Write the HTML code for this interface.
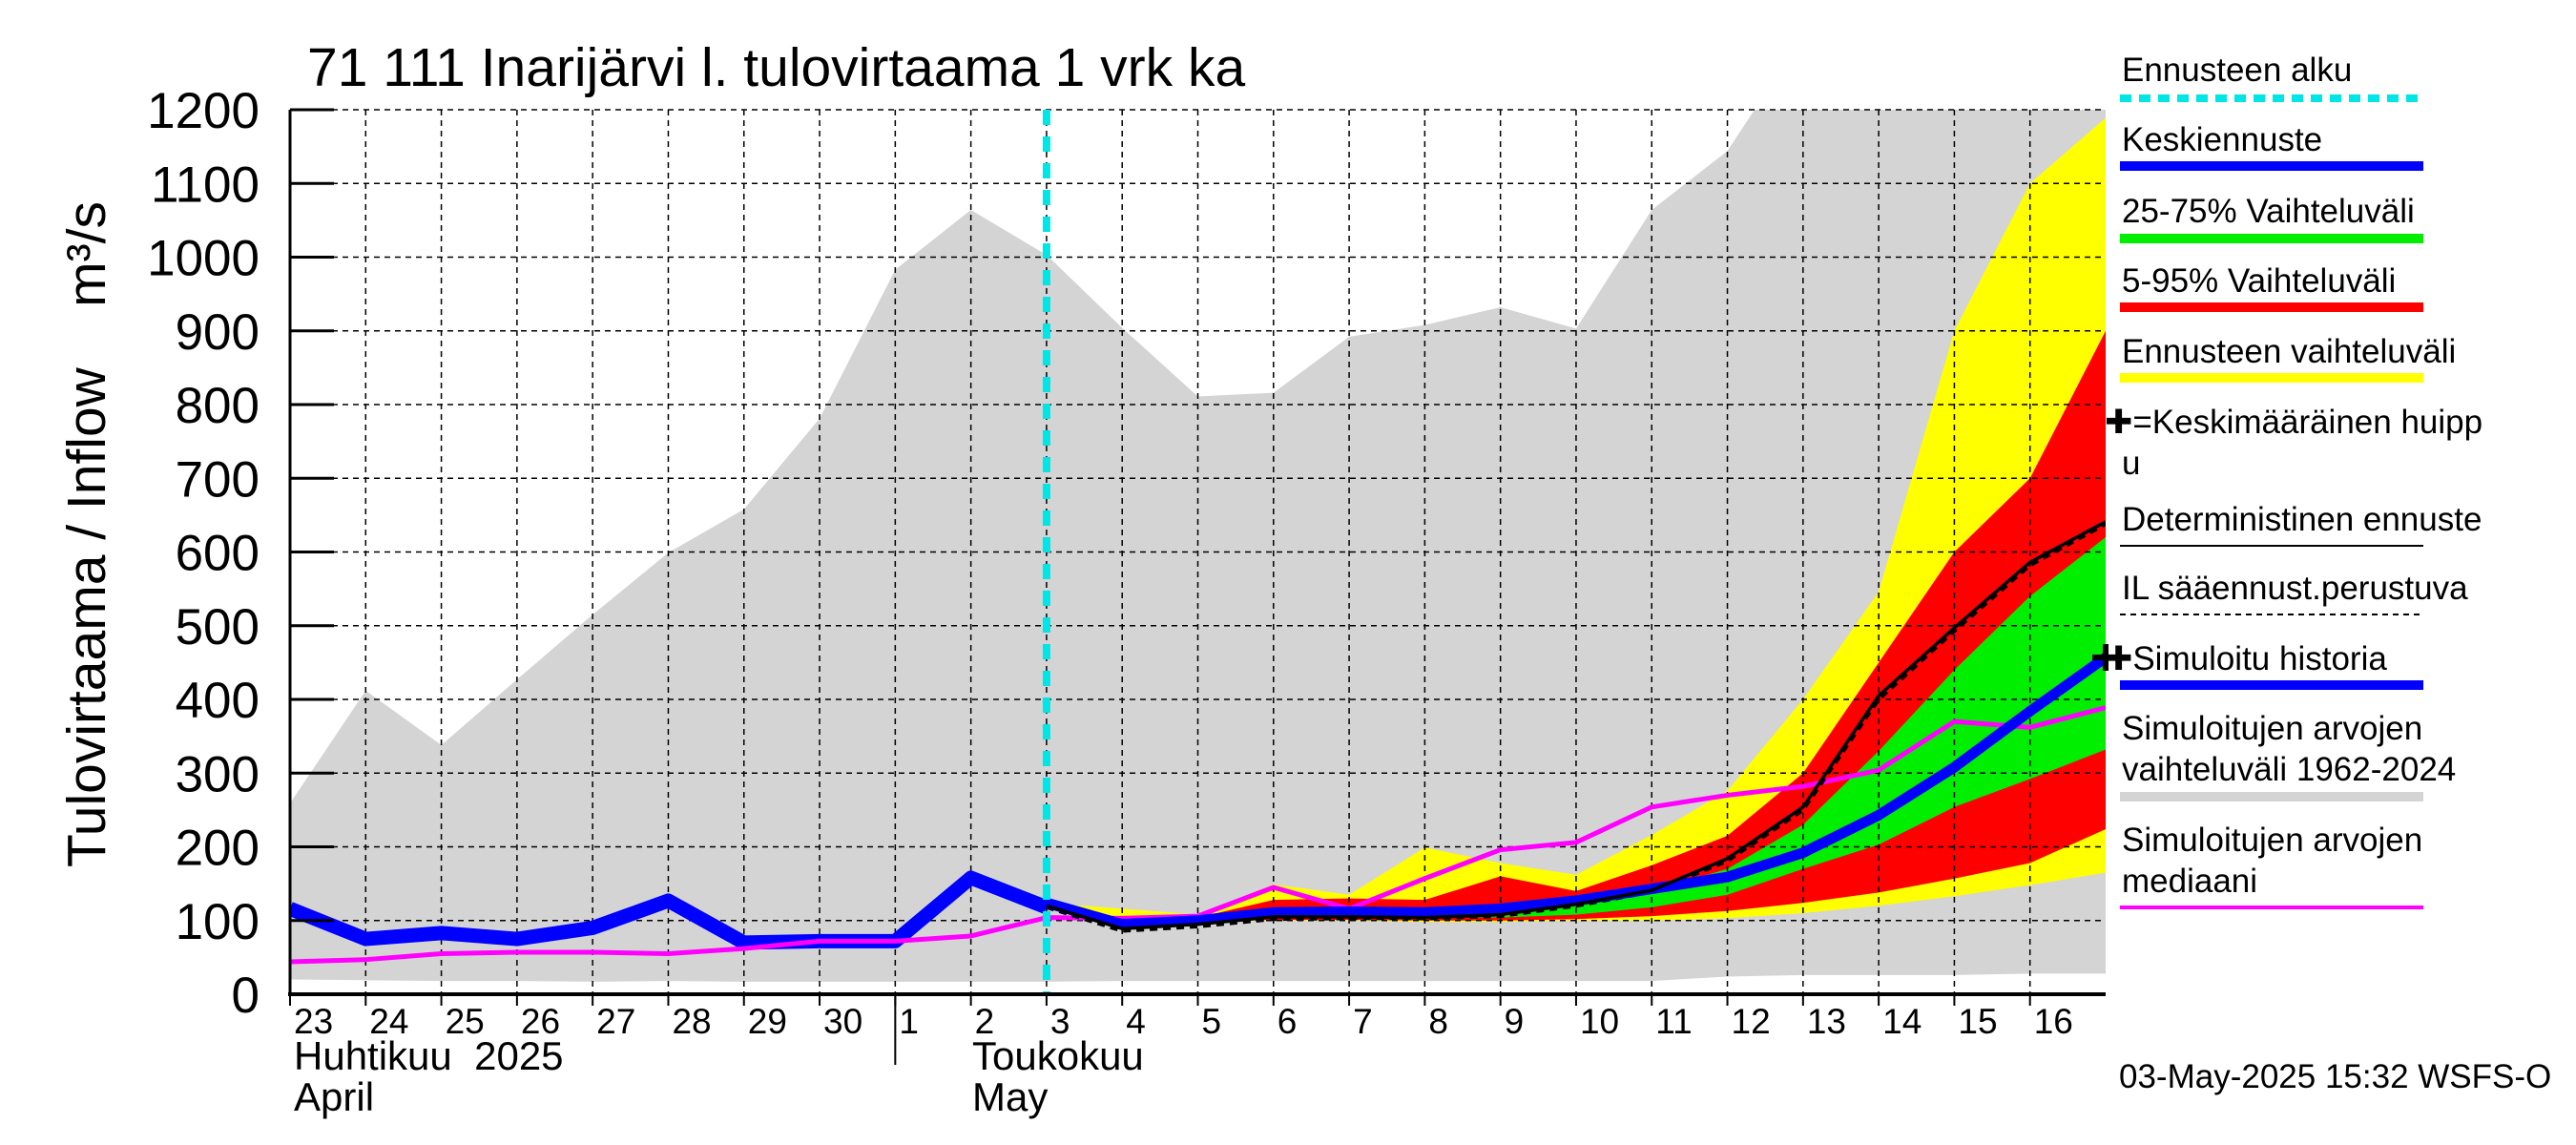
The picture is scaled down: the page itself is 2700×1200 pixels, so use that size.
<!DOCTYPE html>
<html><head><meta charset="utf-8"><style>
body{margin:0;background:#fff}
svg{display:block;font-family:"Liberation Sans",sans-serif}
</style></head><body>
<svg id="chart" width="2700" height="1200" viewBox="0 0 2700 1200" xmlns="http://www.w3.org/2000/svg">
<defs><clipPath id="pc"><rect x="304" y="115" width="1903" height="927"/></clipPath></defs>
<g id="bands" clip-path="url(#pc)"></g>
<g id="grid"></g>
<g id="lines" clip-path="url(#pc)"></g>
<g id="axes"></g>
<g id="legend"></g>
</svg>
<script>
const yTicks=[0,100,200,300,400,500,600,700,800,900,1000,1100,1200];
const dayLabels=["23","24","25","26","27","28","29","30","1","2","3","4","5","6","7","8","9","10","11","12","13","14","15","16"];
const simMax=[259,412,338,427,515,599,658,781,983,1064,1003,904,811,816,892,908,932,903,1064,1144,1300,1350,1350,1350,1350];
const simMin=[20,19,18,18,17,18,17,17,17,17,17,18,18,18,18,18,18,18,18,24,26,26,26,28,28];
const history=[116,75,83,75,90,127,70,72,72,158,118];
const median=[44,47,55,57,57,55,62,72,72,79,104,103,106,145,116,157,196,206,254,270,282,304,370,362,389];
const fcStart=10;
const meanFc=[124,95,100,111,112,111,116,127,143,159,192,243,308,384,457];
const determ=[120,89,95,105,105,104,108,122,141,184,254,405,497,586,641];
const ilFc=[118,86,92,102,103,103,106,120,139,181,250,400,493,582,638];
const yelLo=[124,95,98,100,100,98,98,100,100,103,110,120,133,148,165];
const yelHi=[124,116,108,149,135,199,178,162,216,276,400,546,900,1100,1189];
const redLo=[124,96,99,101,101,100,100,102,106,113,124,138,157,178,224];
const redHi=[124,100,104,128,130,128,160,140,175,215,300,450,600,700,900];
const grnLo=[124,97,100,105,106,104,104,108,118,135,170,203,254,292,332];
const grnHi=[124,98,102,112,114,112,114,122,140,170,230,330,440,540,620];
const NS="http://www.w3.org/2000/svg";
const X=i=>304+i*1903/24, Y=v=>1042-v*927/1200;
function mk(tag,parent,attrs){const e=document.createElementNS(NS,tag);for(const k in attrs)e.setAttribute(k,attrs[k]);document.getElementById(parent).appendChild(e);return e;}
function band(lo,hi,off,fill,name){let p=hi.map((v,i)=>X(i+off)+","+Y(v));for(let i=lo.length-1;i>=0;i--)p.push(X(i+off)+","+Y(lo[i]));
const e=mk("polygon","bands",{points:p.join(" "),fill:fill});

}
function line(vals,off,stroke,w,dash,name,g){const p=vals.map((v,i)=>X(i+off)+","+Y(v)).join(" ");
const e=mk("polyline",g||"lines",{points:p,fill:"none",stroke:stroke,"stroke-width":w,"stroke-linejoin":"round"});if(dash)e.setAttribute("stroke-dasharray",dash);

}
band(simMin,simMax,0,"#d4d4d4","simulated-range-band");
band(yelLo,yelHi,fcStart,"#ffff00","forecast-range-band");
band(redLo,redHi,fcStart,"#ff0000","band-5-95");
band(grnLo,grnHi,fcStart,"#00ee00","band-25-75");
for(const t of yTicks){if(t>0&&t<1200){const e=mk("line","grid",{x1:304,x2:2207,y1:Y(t),y2:Y(t),stroke:"#000","stroke-width":1.5,"stroke-dasharray":"6,5"});}}
for(let i=1;i<24;i++){const e=mk("line","grid",{x1:X(i),x2:X(i),y1:115,y2:1042,stroke:"#000","stroke-width":1.5,"stroke-dasharray":"6,5"});}
mk("line","grid",{x1:304,x2:2207,y1:115,y2:115,stroke:"#000","stroke-width":1.5,"stroke-dasharray":"6,5"});
line(history,0,"#0000ff",15,null,"simulated-history-line");
line(median,0,"#ff00ff",5,null,"median-line");
line(ilFc,fcStart,"#000",4,"8,6","il-forecast-line");
line(meanFc,fcStart,"#0000ff",11,null,"mean-forecast-line");
line(determ,fcStart,"#000",3.5,null,"deterministic-line");
{const e=mk("line","lines",{x1:X(fcStart),x2:X(fcStart),y1:115,y2:1042,stroke:"#00e5e5","stroke-width":8,"stroke-dasharray":"16,12"});}
{const x=X(24),y=Y(meanFc[14]);const e=mk("path","axes",{d:`M${x-14},${y}h28M${x},${y-14}v28`,stroke:"#000","stroke-width":6});}
{const e=mk("line","axes",{x1:304,x2:304,y1:115,y2:1042,stroke:"#000","stroke-width":3});}
{const e=mk("line","axes",{x1:302,x2:2207,y1:1042,y2:1042,stroke:"#000","stroke-width":4});}
for(const t of yTicks){const e=mk("line","axes",{x1:304,x2:350,y1:Y(t),y2:Y(t),stroke:"#000","stroke-width":3});
const tx=mk("text","axes",{x:272,y:Y(t)+19,"font-size":53,"text-anchor":"end"});tx.textContent=t;}
for(let i=0;i<24;i++){const e=mk("line","axes",{x1:X(i),x2:X(i),y1:1042,y2:1054,stroke:"#000","stroke-width":2});
const tx=mk("text","axes",{x:X(i)+4,y:1083,"font-size":37});tx.textContent=dayLabels[i];}
{const e=mk("line","axes",{x1:X(8),x2:X(8),y1:1042,y2:1116,stroke:"#000","stroke-width":2});}
</script>
<script>
(function(){
const NS="http://www.w3.org/2000/svg";const svg=document.getElementById("chart");
function t(x,y,s,txt,name,extra){const e=document.createElementNS(NS,"text");e.setAttribute("x",x);e.setAttribute("y",y);e.setAttribute("font-size",s);if(extra)for(const k in extra)e.setAttribute(k,extra[k]);e.textContent=txt;

svg.appendChild(e);return e;}
function l(y,stroke,w,dash,name){const e=document.createElementNS(NS,"line");e.setAttribute("x1",2222);e.setAttribute("x2",2540);e.setAttribute("y1",y);e.setAttribute("y2",y);e.setAttribute("stroke",stroke);e.setAttribute("stroke-width",w);if(dash)e.setAttribute("stroke-dasharray",dash);

svg.appendChild(e);}
t(322,90,57,"71 111 Inarijärvi l. tulovirtaama 1 vrk ka","chart-title");
t(110,560,57,"Tulovirtaama / Inflow    m³/s","y-axis-title",{transform:"rotate(-90 110 560)","text-anchor":"middle","xml:space":"preserve",style:"white-space:pre"});
t(308,1121,42,"Huhtikuu  2025","month-label-fi",{style:"white-space:pre"});
t(308,1164,42,"April","month-label-en");
t(1019,1121,42,"Toukokuu","month-label-fi");
t(1019,1164,42,"May","month-label-en");
t(2221,1140,35,"03-May-2025 15:32 WSFS-O","timestamp");
const F=35;
t(2224,85,F,"Ennusteen alku","legend-label");l(103,"#00e5e5",8,"12,8","legend-forecast-start");
t(2224,158,F,"Keskiennuste","legend-label");l(174,"#0000ff",10,null,"legend-mean");
t(2224,233,F,"25-75% Vaihteluväli","legend-label");l(250,"#00ee00",10,null,"legend-25-75");
t(2224,306,F,"5-95% Vaihteluväli","legend-label");l(322,"#ff0000",10,null,"legend-5-95");
t(2224,380,F,"Ennusteen vaihteluväli","legend-label");l(396,"#ffff00",10,null,"legend-forecast-range");
t(2206,454,F,"✚=Keskimääräinen huipp","legend-label");t(2224,497,F,"u","legend-label");
t(2224,556,F,"Deterministinen ennuste","legend-label");l(572,"#000",2,null,"legend-deterministic");
t(2224,628,F,"IL sääennust.perustuva","legend-label");l(644,"#000",2,"6,5","legend-il");
t(2206,702,F,"✚Simuloitu historia","legend-label");l(718,"#0000ff",10,null,"legend-history");
t(2224,775,F,"Simuloitujen arvojen","legend-label");t(2224,818,F,"vaihteluväli 1962-2024","legend-label");l(835,"#d4d4d4",10,null,"legend-sim-range");
t(2224,892,F,"Simuloitujen arvojen","legend-label");t(2224,935,F,"mediaani","legend-label");l(951,"#ff00ff",4,null,"legend-median");
})();
</script>
</body></html>
